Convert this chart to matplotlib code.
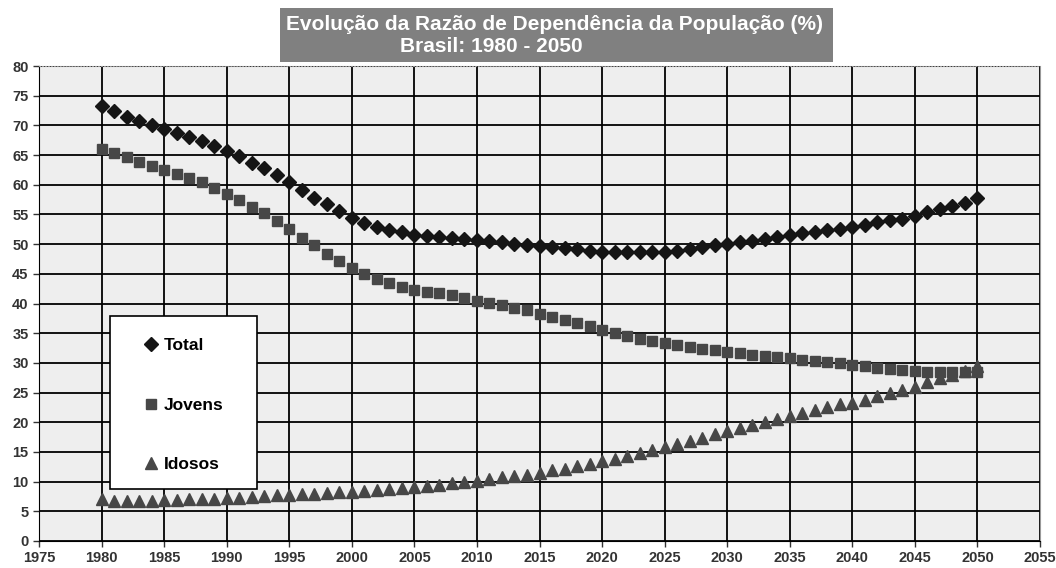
import numpy as np
import matplotlib
matplotlib.use("Agg")
import matplotlib.pyplot as plt
from matplotlib.patches import Rectangle

plt.rcParams['font.family'] = ['Liberation Sans', 'DejaVu Sans']
plt.rcParams['font.weight'] = 'bold'

anos = list(range(1980, 2051))

total = [73.2, 72.4, 71.4, 70.7, 70.0, 69.4, 68.8, 68.1, 67.4, 66.6,
         65.7, 64.8, 63.7, 62.8, 61.6, 60.5, 59.2, 57.8, 56.7, 55.5,
         54.4, 53.6, 52.9, 52.4, 52.0, 51.6, 51.4, 51.2, 51.0, 50.9,
         50.7, 50.5, 50.3, 50.1, 49.9, 49.7, 49.5, 49.3, 49.1, 48.9,
         48.7, 48.6, 48.6, 48.6, 48.6, 48.7, 48.9, 49.2, 49.5, 49.8,
         50.1, 50.4, 50.6, 50.9, 51.2, 51.6, 51.9, 52.1, 52.4, 52.6,
         52.9, 53.3, 53.7, 54.0, 54.3, 54.8, 55.4, 55.9, 56.5, 57.0,
         57.8]

jovens = [66.1, 65.3, 64.6, 63.9, 63.2, 62.5, 61.8, 61.1, 60.4, 59.5,
          58.5, 57.4, 56.3, 55.2, 53.9, 52.5, 51.1, 49.8, 48.4, 47.1,
          46.0, 45.0, 44.2, 43.5, 42.8, 42.3, 42.0, 41.7, 41.4, 41.0,
          40.5, 40.1, 39.7, 39.3, 38.9, 38.3, 37.8, 37.2, 36.7, 36.2,
          35.6, 35.0, 34.5, 34.0, 33.7, 33.4, 33.0, 32.7, 32.4, 32.1,
          31.9, 31.7, 31.4, 31.2, 31.0, 30.8, 30.5, 30.3, 30.1, 29.9,
          29.6, 29.4, 29.2, 29.0, 28.8, 28.6, 28.5, 28.4, 28.4, 28.4,
          28.4]

idosos = [7.0, 6.8, 6.8, 6.8, 6.8, 6.9, 6.9, 7.0, 7.0, 7.0,
          7.2, 7.3, 7.4, 7.6, 7.7, 7.8, 7.9, 8.0, 8.1, 8.2,
          8.3, 8.5, 8.6, 8.8, 8.9, 9.1, 9.3, 9.5, 9.7, 9.9,
          10.1, 10.4, 10.7, 10.9, 11.2, 11.5, 11.9, 12.2, 12.6, 13.0,
          13.4, 13.8, 14.3, 14.8, 15.3, 15.8, 16.3, 16.8, 17.4, 18.0,
          18.5, 19.0, 19.5, 20.0, 20.5, 21.0, 21.5, 22.0, 22.5, 23.0,
          23.3, 23.8, 24.4, 24.9, 25.4, 26.0, 26.7, 27.4, 28.0, 28.7,
          29.4]

xticks = list(range(1975, 2056, 5))
yticks = list(range(0, 81, 5))

fig = plt.figure(figsize=(10.56, 5.68), dpi=100)
ax = fig.add_axes([39/1056, 27/568, 1001/1056, 475/568])
ax.set_facecolor('#eeeeee')

ax.plot(anos, total, 'D', color='#151515', markersize=7.5, label='Total', zorder=3)
ax.plot(anos, jovens, 's', color='#474747', markersize=7.5, label='Jovens', zorder=3)
ax.plot(anos, idosos, '^', color='#474747', markersize=8, label='Idosos', zorder=3)

ax.set_xlim(1975, 2055)
ax.set_ylim(0, 80)
ax.set_xticks(xticks)
ax.set_yticks(yticks)
ax.grid(True, color='black', linewidth=1.3, zorder=1)
ax.set_axisbelow(True)
ax.tick_params(labelsize=10.5, colors='#333333', length=4, width=1, direction='out')
for lab in ax.get_xticklabels() + ax.get_yticklabels():
    lab.set_fontweight('bold')

ax.spines['left'].set_color('black')
ax.spines['bottom'].set_color('black')
ax.spines['right'].set_color('#999999')
ax.spines['top'].set_color('#999999')
ax.spines['top'].set_linestyle(':')

# caixa da legenda
box = Rectangle((71/1001, 52/475), 147/1001, 173/475, transform=ax.transAxes,
                facecolor='white', edgecolor='black', linewidth=1.2, zorder=4)
ax.add_patch(box)
leg = ax.legend(loc='center', bbox_to_anchor=((71 + 73.5)/1001, (52 + 84)/475),
                frameon=False, labelspacing=2.55, handlelength=0.8,
                handletextpad=0.35, prop={'weight': 'bold', 'size': 12.5})
leg.set_zorder(5)

# titulo
fig.patches.append(Rectangle((280/1056, 1 - 62/568), 553/1056, 54/568,
                             transform=fig.transFigure, facecolor='#808080',
                             edgecolor='none', zorder=5))
fig.text(555/1056, 1 - 25/568, 'Evolução da Razão de Dependência da População (%)',
         ha='center', va='center', color='white', fontsize=15, fontweight='bold', zorder=6)
fig.text(491/1056, 1 - 47/568, 'Brasil: 1980 - 2050',
         ha='center', va='center', color='white', fontsize=15, fontweight='bold', zorder=6)

fig.savefig('out.png', dpi=100)
